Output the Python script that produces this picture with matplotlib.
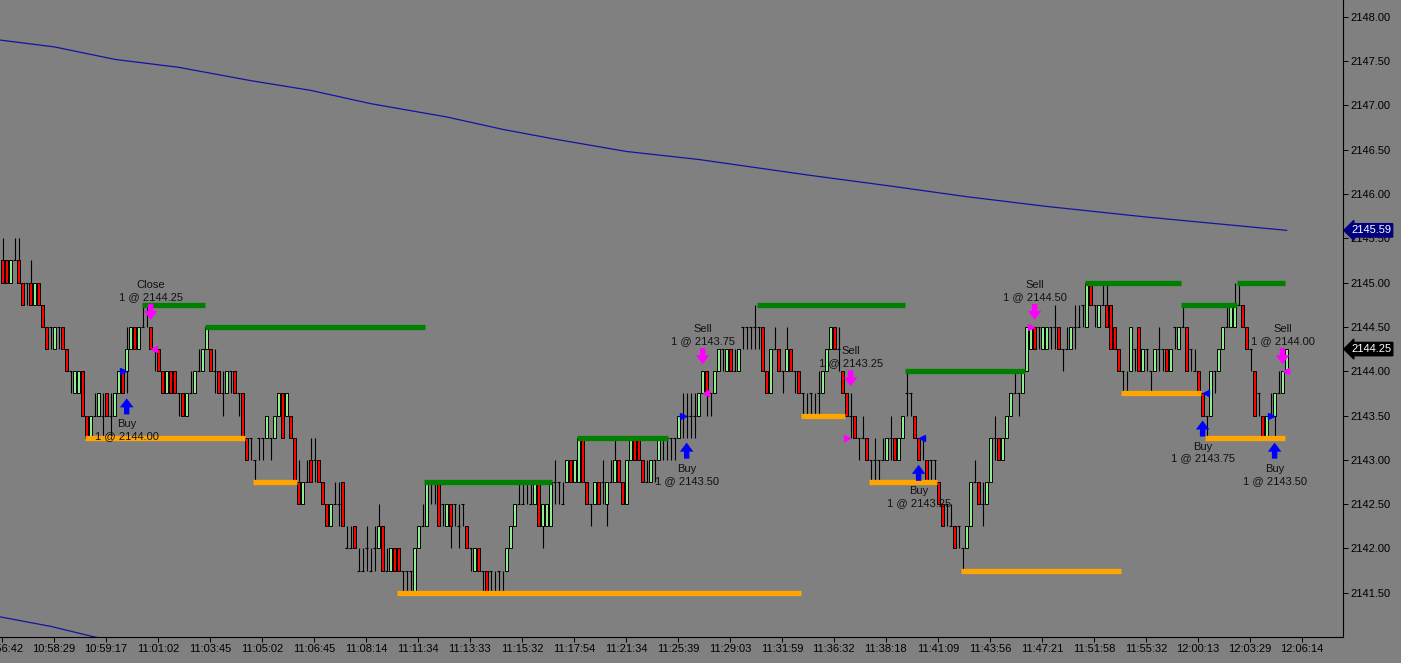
import matplotlib
matplotlib.use("Agg")
import matplotlib.pyplot as plt
import matplotlib.transforms as mtransforms
import numpy as np

plt.rcParams['font.family'] = ['Liberation Sans', 'DejaVu Sans']

# prix de base et pas de cotation (les barres sont stockées en ticks)
BASE = 2141.50
TICK = 0.25

o_t = [15,15,14,15,15,14,14,14,13,14, 13,12,12,11,12,12,11,10,9,9,
       10,8,7,8,8,8,9,8,8,9, 10,10,11,12,11,12,13,12,11,11,
       10,9,10,10,9,9,8,9,9,10, 10,11,11,10,10,9,9,10,10,9,
       9,7,7,6,7,7,7,7,7,8, 9,8,8,7,5,4,5,6,6,6,
       5,4,3,4,4,5,2,2,3,1, 1,2,1,2,2,3,1,1,2,2,
       1,1,1,0,2,3,3,5,5,5, 4,3,4,4,3,4,3,2,1,2,
       1,1,1,0,1,0,1,2,3,4, 4,5,4,4,5,3,3,3,5,5,
       4,5,6,5,5,7,5,4,4,5, 5,4,5,5,6,5,4,6,7,7,
       6,5,5,6,6,7,7,7,7,7, 8,8,8,8,8,9,10,9,9,10,
       11,10,11,10,10,12,12,12,12,12, 12,10,9,11,11,10,10,11,10,10,
       9,8,9,8,9,9,10,11,12,11, 10,9,8,8,7,7,7,6,6,6,
       6,6,7,7,6,7,9,9,8,7, 7,6,6,6,5,4,4,3,3,3,
       2,2,3,5,5,4,4,5,7,7, 6,7,8,9,9,9,10,11,12,12,
       11,11,12,12,12,11,11,11,12,12, 13,12,14,13,12,13,13,13,12,11,
       10,9,10,11,12,10,11,10,10,11, 11,11,10,12,11,12,12,11,10,10,
       9,8,8,10,10,11,12,12,12,13, 13,12,11,10,9,8,7,8,8,9,9,10]
h_t = [16,15,15,16,16,14,14,15,14,14, 13,12,12,12,12,12,11,10,10,10,
       10,8,8,9,9,9,9,9,9,10, 10,12,12,12,12,13,13,12,11,11,
       10,10,10,10,9,9,9,10,10,11, 11,12,11,11,10,10,10,10,10,9,
       9,7,7,6,7,7,8,7,8,9, 9,9,8,7,6,5,6,7,7,6,
       5,4,4,5,5,5,3,3,3,2, 2,3,2,3,4,3,2,2,2,2,
       1,1,1,2,3,4,5,5,5,5, 4,4,4,4,4,4,3,2,2,2,
       1,1,1,1,1,1,2,3,4,5, 5,5,5,5,5,4,4,5,6,5,
       5,6,6,6,7,7,5,4,5,5, 6,5,6,7,6,5,6,7,7,7,
       6,6,6,6,7,7,7,7,7,8, 9,9,9,9,9,10,10,9,10,11,
       11,11,11,11,11,12,12,12,13,12, 12,10,11,12,11,10,12,11,10,10,
       9,9,9,9,10,10,11,12,12,12, 10,9,9,8,7,8,7,6,7,6,
       7,7,8,7,7,8,10,9,8,7, 7,6,6,6,5,4,4,4,3,3,
       2,3,5,6,5,5,5,7,8,7, 7,8,9,10,9,10,12,12,12,12,
       12,12,12,13,12,11,12,12,13,13, 13,14,14,13,13,14,14,13,12,11,
       10,10,12,11,12,11,11,10,11,12, 11,11,11,12,12,13,12,11,11,10,
       9,8,10,10,11,12,13,13,14,14, 13,12,11,10,9,8,8,9,9,10,10,11]
l_t = [14,14,14,15,14,13,13,13,13,13, 12,11,11,11,11,11,10,9,9,9,
       8,7,7,8,8,7,8,7,8,9, 9,9,11,11,11,12,12,11,10,10,
       9,9,9,9,8,8,8,9,9,10, 10,11,10,9,9,8,9,9,9,8,
       7,6,6,5,6,6,7,6,7,8, 7,8,7,5,4,4,5,5,5,5,
       4,3,3,4,3,3,2,2,2,1, 1,1,1,1,2,1,1,1,1,1,
       0,0,0,0,2,3,3,4,4,3, 3,3,2,3,2,3,2,1,1,1,
       0,0,0,0,0,0,1,2,3,4, 4,4,4,4,3,2,3,3,4,4,
       4,5,5,5,5,5,4,3,4,4, 4,3,5,5,5,4,4,6,6,6,
       5,5,5,5,6,6,6,6,6,7, 7,7,7,7,8,9,8,8,9,10,
       10,10,10,10,10,11,11,11,11,11, 10,9,9,11,10,9,10,10,9,9,
       8,8,8,8,8,9,10,11,11,10, 9,8,7,7,6,7,6,5,5,5,
       6,6,6,6,6,7,8,8,7,6, 6,5,5,5,4,3,3,3,2,2,
       1,2,3,5,4,3,4,5,6,6, 6,7,8,9,8,9,10,11,11,11,
       11,11,11,11,11,10,11,11,11,12, 12,12,13,12,12,13,12,11,11,10,
       9,9,10,10,10,10,10,9,10,10, 10,10,10,11,11,12,10,10,10,9,
       8,7,8,9,10,11,12,12,12,13, 12,11,10,8,8,7,7,8,7,9,9,10]
c_t = [14,14,15,15,14,13,14,13,14,13, 12,11,12,12,12,11,10,10,10,10,
       8,7,8,8,9,8,8,8,9,10, 9,11,12,11,12,12,13,11,11,10,
       9,10,9,9,9,8,9,9,10,10, 11,12,10,10,9,9,10,10,9,9,
       7,6,7,6,7,7,8,7,8,9, 7,9,7,5,4,5,5,5,6,5,
       4,3,4,4,4,3,2,2,2,1, 1,2,1,2,3,1,1,2,1,1,
       1,1,1,2,3,3,5,5,5,3, 4,4,3,4,3,4,2,2,2,1,
       1,0,1,0,1,0,2,3,4,4, 4,5,4,5,3,4,4,5,5,5,
       4,6,5,6,7,5,4,4,5,4, 5,5,5,6,5,4,6,7,6,6,
       5,5,6,6,7,7,7,7,7,8, 8,8,8,8,9,10,9,9,10,11,
       11,11,10,10,11,12,12,12,12,12, 10,9,11,11,10,10,11,10,10,9,
       9,8,9,8,9,10,11,12,11,11, 9,8,8,7,7,7,6,6,6,6,
       6,7,7,6,7,8,9,9,7,6, 7,5,6,6,4,3,4,3,2,3,
       2,3,5,5,4,4,5,7,7,6, 7,8,9,9,9,10,12,12,11,12,
       12,12,12,12,11,11,11,12,12,12, 13,14,13,13,13,13,12,11,11,10,
       10,9,12,11,10,11,11,10,11,11, 11,10,11,12,12,12,10,11,10,9,
       8,8,10,10,11,12,12,13,13,13, 12,11,11,8,9,7,8,8,9,9,10,11]

# moyennes mobiles
ma_bar = [-1, 13, 28, 44, 62, 77, 92, 111, 125, 138, 156, 174, 202, 222, 241, 261, 286, 307, 321]
ma_val = [2147.74, 2147.66, 2147.52, 2147.43, 2147.28, 2147.17, 2147.02, 2146.87, 2146.73,
          2146.62, 2146.48, 2146.39, 2146.21, 2146.09, 2145.97, 2145.86, 2145.74, 2145.65, 2145.59]
ma2_bar = [-1, 12, 23, 30]
ma2_val = [2141.23, 2141.12, 2141.00, 2140.95]

# niveaux de swing
green_lvl = [2144.75, 2144.50, 2142.75, 2143.25, 2144.75, 2144.00, 2145.00, 2144.75, 2145.00]
green_start = [34.8, 50.6, 105.3, 143.6, 188.6, 225.6, 270.6, 294.6, 308.6]
green_end = [50.6, 105.6, 137.3, 166.3, 225.6, 255.6, 294.6, 308.6, 320.6]
orange_lvl = [2143.25, 2142.75, 2141.50, 2143.50, 2142.75, 2141.75, 2143.75, 2143.25]
orange_start = [20.6, 62.6, 98.6, 199.6, 216.6, 239.6, 279.6, 300.6]
orange_end = [60.6, 73.6, 199.6, 210.6, 233.6, 279.6, 299.6, 320.6]

# exécutions
trade_bar = [31, 37, 171, 175, 212, 229, 258, 300, 318, 320]
trade_price = [2144.00, 2144.25, 2143.50, 2143.75, 2143.25, 2143.25, 2144.50, 2143.75, 2143.50, 2144.00]
trade_name = ['Buy', 'Close', 'Buy', 'Sell', 'Sell', 'Buy', 'Sell', 'Buy', 'Buy', 'Sell']
trade_tri = ['>', '<', '>', '<', '>', '<', '>', '<', '>', '<']

time_labels = ['10:56:42', '10:58:29', '10:59:17', '11:01:02', '11:03:45', '11:05:02',
               '11:06:45', '11:08:14', '11:11:34', '11:13:33', '11:15:32', '11:17:54',
               '11:21:34', '11:25:39', '11:29:03', '11:31:59', '11:36:32', '11:38:18',
               '11:41:09', '11:43:56', '11:47:21', '11:51:58', '11:55:32', '12:00:13',
               '12:03:29', '12:06:14']
price_ticks = [2141.5 + 0.5 * k for k in range(14)]

BG = '#808080'
fig = plt.figure(figsize=(14.01, 6.63), dpi=100)
fig.patch.set_facecolor(BG)
ax = fig.add_axes([0, 26 / 663, 1343 / 1401, 637 / 663])
ax.set_facecolor(BG)

opens = BASE + TICK * np.array(o_t)
highs = BASE + TICK * np.array(h_t)
lows = BASE + TICK * np.array(l_t)
closes = BASE + TICK * np.array(c_t)
x = np.arange(len(o_t))

# --- barres ---
W = 0.72
ax.vlines(x, lows, highs, color='black', lw=0.8, zorder=2)
up = closes > opens
dn = closes < opens
dj = closes == opens
ax.bar(x[up], (closes - opens)[up], bottom=opens[up], width=W, color='#90EE90',
       edgecolor='black', linewidth=0.7, zorder=3)
ax.bar(x[dn], (opens - closes)[dn], bottom=closes[dn], width=W, color='#FF0000',
       edgecolor='black', linewidth=0.7, zorder=3)
ax.hlines(closes[dj], x[dj] - W / 2, x[dj] + W / 2, color='black', lw=0.8, zorder=3)

# --- moyennes mobiles ---
ax.plot(ma_bar, ma_val, color='#1414a0', lw=0.9, zorder=2)
ax.plot(ma2_bar, ma2_val, color='#1414a0', lw=0.9, zorder=2)

# --- niveaux ---
ax.hlines(green_lvl, green_start, green_end, color='#008000', lw=3.8, zorder=4)
ax.hlines(orange_lvl, orange_start, orange_end, color='#FFA500', lw=3.8, zorder=4)

# --- trades ---
def off(dy):
    return mtransforms.offset_copy(ax.transData, fig=fig, x=0, y=dy, units='dots')

for b, p, name, tri in zip(trade_bar, trade_price, trade_name, trade_tri):
    is_buy = name == 'Buy'
    col = '#0000FF' if is_buy else '#FF00FF'
    tx = b - 0.9 if tri == '>' else b + 0.9
    ax.plot(tx, p, marker=tri, color=col, ms=4.5, mec=col, zorder=6)
    if is_buy:
        ref = lows[b]
        tip, tail, l1, l2 = -5, -21, -31, -43
    else:
        ref = highs[b]
        tip, tail, l1, l2 = 7, 23, 42, 30
    ax.annotate('', xy=(b, ref), xycoords=off(tip), xytext=(b, ref), textcoords=off(tail),
                arrowprops=dict(arrowstyle='simple,head_length=0.5,head_width=0.75,tail_width=0.3',
                                color=col, lw=0, shrinkA=0, shrinkB=0, mutation_scale=13),
                zorder=6)
    ax.text(b, ref, name, transform=off(l1), ha='center', va='center',
            fontsize=8, color='#111111', zorder=7)
    ax.text(b, ref, f"1 @ {p:.2f}", transform=off(l2), ha='center', va='center',
            fontsize=8, color='#111111', zorder=7)

# --- axes ---
ax.set_xlim(-0.675, 335.1)
ax.set_ylim(2141.0, 2148.19)
ax.yaxis.tick_right()
ax.set_yticks(price_ticks)
ax.set_yticklabels([f"{v:.2f}" for v in price_ticks])
ax.set_xticks([13 * k - 0.2 for k in range(len(time_labels))])
ax.set_xticklabels(time_labels)
ax.tick_params(axis='both', direction='out', length=3.6, width=0.7, colors='black',
               labelsize=8, pad=1.5)
for s in ['left', 'top']:
    ax.spines[s].set_visible(False)
for s in ['right', 'bottom']:
    ax.spines[s].set_color('black')
    ax.spines[s].set_linewidth(0.8)

# étiquettes de prix à droite
blend = mtransforms.blended_transform_factory(ax.transAxes, ax.transData)
ax.text(1.0 + 8 / 1343, 2145.59, '2145.59', transform=blend, ha='left', va='center',
        fontsize=8, color='white', zorder=8,
        bbox=dict(boxstyle='larrow,pad=0.15', fc='#000080', ec='#000080'))
ax.text(1.0 + 8 / 1343, closes[-1], f"{closes[-1]:.2f}", transform=blend, ha='left',
        va='center', fontsize=8, color='white', zorder=8,
        bbox=dict(boxstyle='larrow,pad=0.15', fc='black', ec='black'))

fig.savefig('out.png', dpi=100, facecolor=BG)
